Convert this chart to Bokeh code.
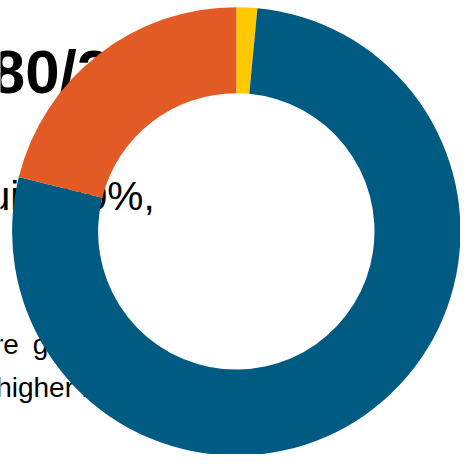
import numpy as np
from bokeh.plotting import figure
from bokeh.models import Range1d, ColumnDataSource
from bokeh.core.properties import value
from bokeh.embed import file_html
from bokeh.resources import INLINE

# ---- data ----
categories = ["Other", "Equity", "Fixed income"]
shares = [1.5, 77.4, 21.1]
colors = ["#FFC800", "#005B82", "#E35B24"]

heading = "80/20"
line2 = "Equity 80%,"
line3 = "more\u2002growth"
line4 = "higher risk."

# ---- layout: data coordinates follow the 476x470 reference grid (y flipped) ----
W, H = 460, 454
S = W / 476.0
p = figure(width=W, height=H, x_range=Range1d(0, 476), y_range=Range1d(0, 470),
           output_backend="svg", toolbar_location=None, min_border=0)
p.axis.visible = False
p.grid.visible = False
p.outline_line_color = None
p.background_fill_color = "white"
p.border_fill_color = "white"

def wy(y):
    return 470 - y

def fs(px):
    return f"{px * S:.1f}px"

font = value("Liberation Sans")
p.text(x=[-10], y=[wy(73)], text=[heading], text_font=font, text_font_size=fs(64),
       text_font_style="bold", text_color="black", text_baseline="alphabetic", text_align="left")
p.text(x=[-64.5], y=[wy(202)], text=[line2], text_font=font, text_font_size=fs(42),
       text_color="black", text_baseline="alphabetic", text_align="left")
p.text(x=[-47], y=[wy(356)], text=[line3], text_font=font, text_font_size=fs(29),
       text_color="black", text_baseline="alphabetic", text_align="left")
p.text(x=[-4.5], y=[wy(401)], text=[line4], text_font=font, text_font_size=fs(29),
       text_color="black", text_baseline="alphabetic", text_align="left")

vals = np.array(shares, dtype=float)
cum = np.concatenate([[0.0], np.cumsum(vals)]) / vals.sum() * 2 * np.pi
src = ColumnDataSource(dict(
    cat=categories, share=shares, color=colors,
    start=np.pi / 2 - cum[:-1], end=np.pi / 2 - cum[1:],
))
p.annular_wedge(x=244, y=wy(239), inner_radius=143, outer_radius=232,
                start_angle="start", end_angle="end", direction="clock",
                fill_color="color", line_color=None, source=src)

open("out.html", "w").write(file_html(p, INLINE))
